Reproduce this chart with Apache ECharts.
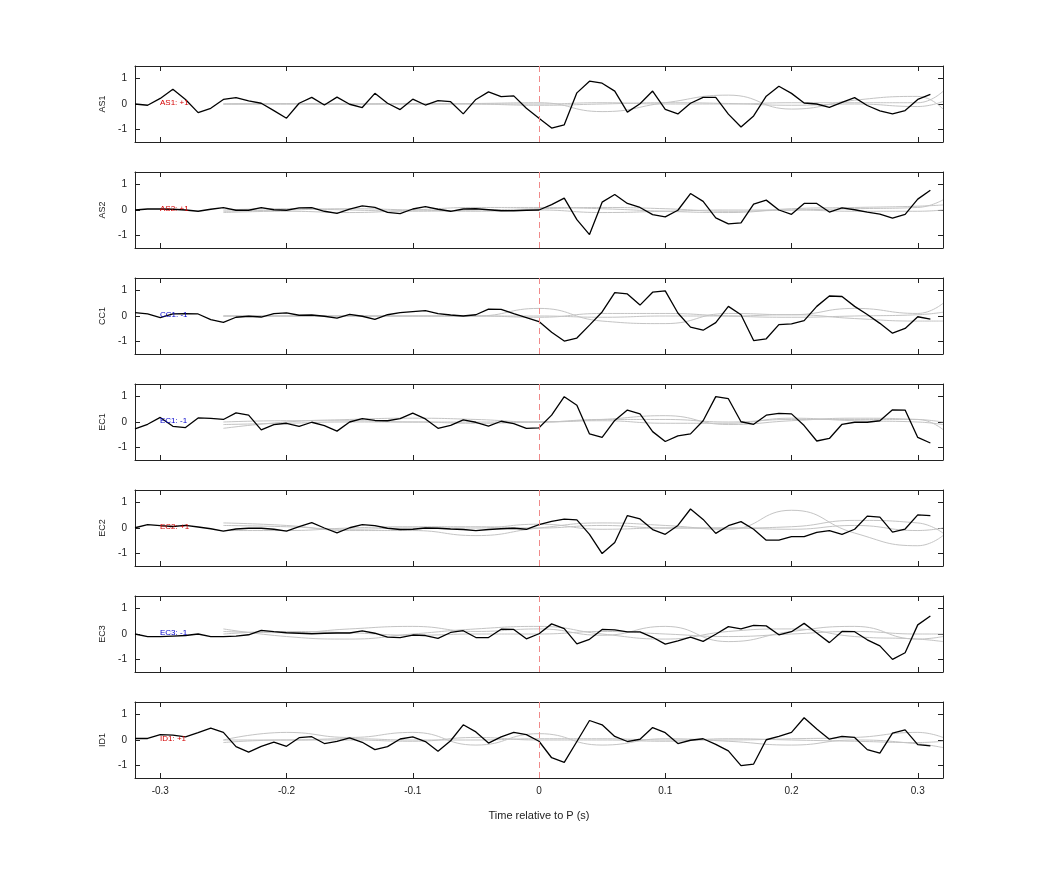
<!DOCTYPE html>
<html><head><meta charset="utf-8">
<script src="https://cdn.jsdelivr.net/npm/echarts@6/dist/echarts.min.js"></script>
<style>html,body{margin:0;padding:0;background:#fff}#c{width:1042px;height:875px}</style>
</head><body><div id="c"></div>
<script>
const channels = ['AS1','AS2','CC1','EC1','EC2','EC3','ID1'];
const tagLabels = ['AS1: +1','AS2: +1','CC1: -1','EC1: -1','EC2: +1','EC3: -1','ID1: +1'];
const tagColors = ['#d40000','#d40000','#0000cc','#0000cc','#d40000','#0000cc','#d40000'];
const xTitle = 'Time relative to P (s)';
const time = []; for (let k = 0; k < 64; k++) time.push(+(-0.32 + k * 0.01).toFixed(2));
const grayTime = [-0.25,-0.2,-0.15,-0.1,-0.05,0,0.05,0.1,0.15,0.2,0.25,0.3,0.32];

const AS1 = [0,-0.05,0.22,0.58,0.18,-0.34,-0.17,0.18,0.25,0.12,0.03,-0.26,-0.56,0.03,0.26,-0.04,0.27,-0.01,-0.14,0.42,0.03,-0.22,0.19,-0.04,0.13,0.09,-0.39,0.18,0.48,0.29,0.32,-0.17,-0.56,-0.95,-0.82,0.44,0.9,0.82,0.51,-0.32,0.01,0.51,-0.21,-0.39,0.03,0.26,0.26,-0.4,-0.91,-0.47,0.31,0.7,0.42,0.04,0,-0.13,0.06,0.25,-0.06,-0.27,-0.39,-0.26,0.18,0.38];
const AS2 = [0,0.04,0.04,0.03,0,-0.05,0.03,0.09,-0.01,-0.01,0.09,0.01,-0.01,0.08,0.09,-0.05,-0.13,0.03,0.16,0.1,-0.09,-0.14,0.04,0.13,0.03,-0.05,0.04,0.05,0.01,-0.03,-0.03,-0.01,0,0.21,0.47,-0.38,-0.97,0.31,0.61,0.26,0.1,-0.18,-0.27,-0.01,0.65,0.34,-0.31,-0.55,-0.51,0.23,0.39,0,-0.17,0.26,0.26,-0.08,0.08,0.01,-0.08,-0.16,-0.32,-0.17,0.43,0.78];
const CC1 = [0.13,0.08,-0.06,0.08,0.09,0.08,-0.14,-0.25,-0.05,-0.01,-0.04,0.09,0.12,0.03,0.04,-0.01,-0.08,0.06,-0.01,-0.13,0.05,0.13,0.17,0.21,0.09,0.04,0,0.05,0.27,0.26,0.09,-0.06,-0.22,-0.64,-0.99,-0.87,-0.36,0.16,0.92,0.87,0.43,0.94,0.99,0.12,-0.44,-0.56,-0.26,0.38,0.05,-0.97,-0.9,-0.34,-0.31,-0.18,0.38,0.79,0.77,0.38,0.06,-0.29,-0.68,-0.49,-0.03,-0.12];
const EC1 = [-0.27,-0.09,0.18,-0.17,-0.22,0.16,0.14,0.1,0.36,0.27,-0.31,-0.1,-0.05,-0.17,-0.01,-0.14,-0.36,0,0.13,0.06,0.05,0.13,0.35,0.12,-0.25,-0.13,0.08,-0.01,-0.16,0.03,-0.06,-0.25,-0.23,0.27,1.0,0.66,-0.47,-0.61,0.06,0.47,0.32,-0.38,-0.77,-0.55,-0.47,0.05,1.0,0.92,0.01,-0.09,0.27,0.34,0.32,-0.14,-0.75,-0.65,-0.09,-0.01,-0.01,0.05,0.48,0.47,-0.61,-0.83];
const EC2 = [0.01,0.13,0.09,0.06,0.1,0.04,-0.03,-0.12,-0.04,-0.01,-0.01,-0.05,-0.12,0.05,0.21,0,-0.19,0.01,0.13,0.09,-0.01,-0.06,-0.05,0,-0.01,-0.04,-0.06,-0.1,-0.06,-0.03,-0.01,-0.05,0.13,0.26,0.35,0.32,-0.25,-1.01,-0.57,0.49,0.36,-0.06,-0.25,0.1,0.75,0.34,-0.21,0.09,0.25,-0.05,-0.48,-0.48,-0.34,-0.34,-0.17,-0.1,-0.25,-0.05,0.47,0.43,-0.16,-0.04,0.52,0.49];
const EC3 = [0,-0.1,-0.1,-0.08,-0.06,0,-0.1,-0.1,-0.08,-0.03,0.14,0.09,0.05,0.03,0.01,0.03,0.04,0.04,0.12,0.03,-0.12,-0.14,-0.04,-0.06,-0.17,0.06,0.13,-0.14,-0.14,0.19,0.18,-0.19,0.01,0.4,0.21,-0.39,-0.21,0.18,0.16,0.08,0.08,-0.13,-0.4,-0.27,-0.12,-0.29,-0.01,0.29,0.2,0.34,0.32,-0.03,0.09,0.42,0.04,-0.34,0.1,0.09,-0.23,-0.47,-1.0,-0.74,0.36,0.71];
const ID1 = [0.06,0.06,0.21,0.19,0.12,0.29,0.47,0.3,-0.26,-0.48,-0.25,-0.08,-0.25,0.09,0.13,-0.14,-0.05,0.08,-0.09,-0.38,-0.26,0.04,0.12,-0.06,-0.44,-0.03,0.6,0.32,-0.12,0.12,0.3,0.21,-0.05,-0.7,-0.88,-0.06,0.77,0.6,0.14,-0.06,0.03,0.49,0.29,-0.14,-0.01,0.05,-0.17,-0.43,-1.01,-0.95,0.01,0.14,0.3,0.88,0.43,0.03,0.14,0.1,-0.38,-0.52,0.27,0.4,-0.18,-0.23];
const blackSeries = [AS1, AS2, CC1, EC1, EC2, EC3, ID1];

// gray reference traces (sampled at grayTime)
const grayAS1 = [[0,0,0,0,0.02,0.05,-0.3,0.05,0.35,-0.2,0.15,0.3,-0.2],[0,0,0,0,0,0,0.05,0,0,0.05,0.05,0.05,0.5],[0,0.02,0,0.02,0,-0.05,0,0.05,0.02,-0.05,0,-0.1,0.1]];
const grayAS2 = [[-0.1,-0.05,-0.1,0,0.1,0.1,0.05,-0.05,-0.1,0.05,0.1,0.15,0.2],[0,0.05,0,-0.05,0,0.05,0.1,0.05,-0.05,0,0.05,0.1,0.4],[-0.05,0,0.05,0,-0.05,0,-0.1,-0.05,0,0,-0.05,-0.05,0]];
const grayCC1 = [[0,0,0,0,0,0.3,-0.2,-0.3,0.1,0.05,0.3,0.1,0.5],[0,0,0,0,0,-0.05,0.1,0.1,0,-0.05,0,0.05,0.15],[0,0,0,0,0,0,-0.05,0,0,0.05,-0.1,-0.2,-0.2]];
const grayEC1 = [[-0.25,0,0.1,0.15,0.1,0,0.1,0.25,-0.1,0.05,0.15,0.1,0],[0,0.05,0.05,0,0,0,0.1,0.1,0,0.1,0.1,0.1,-0.3],[-0.1,-0.05,0,0,-0.05,0,0.05,-0.05,-0.05,0.15,0.05,0,-0.1]];
const grayEC2 = [[0.2,0.1,-0.1,-0.1,-0.3,0,0.2,0.1,-0.05,0.7,-0.2,-0.7,-0.3],[0.1,0.05,-0.05,0,0,0.15,-0.05,0,0,0.05,0.3,0.2,-0.2],[-0.1,-0.1,0,0.05,0.05,0,0.1,0,0,-0.05,0.1,-0.1,0]];
const grayEC3 = [[0.1,0.05,0.2,0.3,0.1,0.2,-0.05,0.3,-0.3,0.1,0.3,-0.2,-0.1],[0.2,-0.1,-0.2,0,0.2,0.3,0,-0.2,0.1,0.2,-0.1,-0.2,-0.3],[0,0.1,0.05,-0.05,0,0,0.1,0,-0.1,0,0.1,0,0]];
const grayID1 = [[0,0.3,0.1,0.3,-0.2,0.25,-0.2,0.05,-0.05,-0.2,0,-0.15,-0.3],[0,0,0.05,0,0,0.05,0.05,0,0,0.05,0.1,0.3,0.1],[-0.1,0,0,-0.05,0.1,0,0,-0.05,0.05,0,-0.05,-0.1,-0.05]];
const grayAll = [grayAS1, grayAS2, grayCC1, grayEC1, grayEC2, grayEC3, grayID1];

const xTicks = [-0.3,-0.2,-0.1,0,0.1,0.2,0.3];
const yTicks = [-1,0,1];

const chart = echarts.init(document.getElementById('c'));
const FONT = 'Liberation Sans';
const grids = [], xAxes = [], yAxes = [], series = [], graphics = [];
const top0 = 66, step = 106, h = 76, left = 135, width = 808;
channels.forEach((ch, i) => {
  grids.push({left: left, top: top0 + step * i, width: width, height: h});
  const last = i === channels.length - 1;
  const axBase = {type: 'value', min: -0.32, max: 0.32, gridIndex: i, splitLine: {show: false},
    axisLine: {show: true, onZero: false, lineStyle: {color: '#222', width: 1}},
    axisTick: {show: true, inside: true, length: 5, lineStyle: {color: '#222'}, customValues: xTicks},
    axisLabel: {show: false, customValues: xTicks, color: '#222', fontFamily: FONT, fontSize: 10, formatter: v => String(v)}};
  xAxes.push(Object.assign({}, axBase, {position: 'bottom',
    axisLabel: Object.assign({}, axBase.axisLabel, {show: last, margin: 8})}));
  xAxes.push(Object.assign({}, axBase, {position: 'top'}));
  const yBase = {type: 'value', min: -1.5, max: 1.5, gridIndex: i, splitLine: {show: false},
    axisLine: {show: true, onZero: false, lineStyle: {color: '#222', width: 1}},
    axisTick: {show: true, inside: true, length: 5, lineStyle: {color: '#222'}, customValues: yTicks},
    axisLabel: {show: false, customValues: yTicks, color: '#222', fontFamily: FONT, fontSize: 10}};
  yAxes.push(Object.assign({}, yBase, {position: 'left', axisLabel: Object.assign({}, yBase.axisLabel, {show: true, margin: 8}),
    name: ch, nameLocation: 'middle', nameRotate: 90, nameGap: 26, nameTextStyle: {color: '#222', fontFamily: FONT, fontSize: 9}}));
  yAxes.push(Object.assign({}, yBase, {position: 'right'}));
  grayAll[i].forEach(g => {
    series.push({type: 'line', xAxisIndex: 2 * i, yAxisIndex: 2 * i, data: grayTime.map((t, j) => [t, g[j]]),
      smooth: 0.5, showSymbol: false, silent: true, lineStyle: {color: '#c4c4c4', width: 1}, z: 2});
  });
  series.push({type: 'line', xAxisIndex: 2 * i, yAxisIndex: 2 * i, data: time.map((t, j) => [t, blackSeries[i][j]]),
    showSymbol: false, silent: true, lineStyle: {color: '#000', width: 1.3}, z: 3,
    markLine: {silent: true, symbol: 'none', label: {show: false}, lineStyle: {color: '#f08a8a', type: [6, 4], width: 1},
      data: [[{coord: [0, -1.5]}, {coord: [0, 1.5]}]]}});
  graphics.push({type: 'text', left: 160, top: top0 + step * i + h / 2 - 5,
    style: {text: tagLabels[i], fill: tagColors[i], font: '8px ' + FONT}, z: 10});
});
graphics.push({type: 'text', x: 539, y: 816, style: {text: xTitle, fill: '#222', font: '11px ' + FONT, align: 'center', verticalAlign: 'middle'}});
chart.setOption({animation: false, backgroundColor: '#fff', grid: grids, xAxis: xAxes, yAxis: yAxes, series: series, graphic: graphics});
</script></body></html>
